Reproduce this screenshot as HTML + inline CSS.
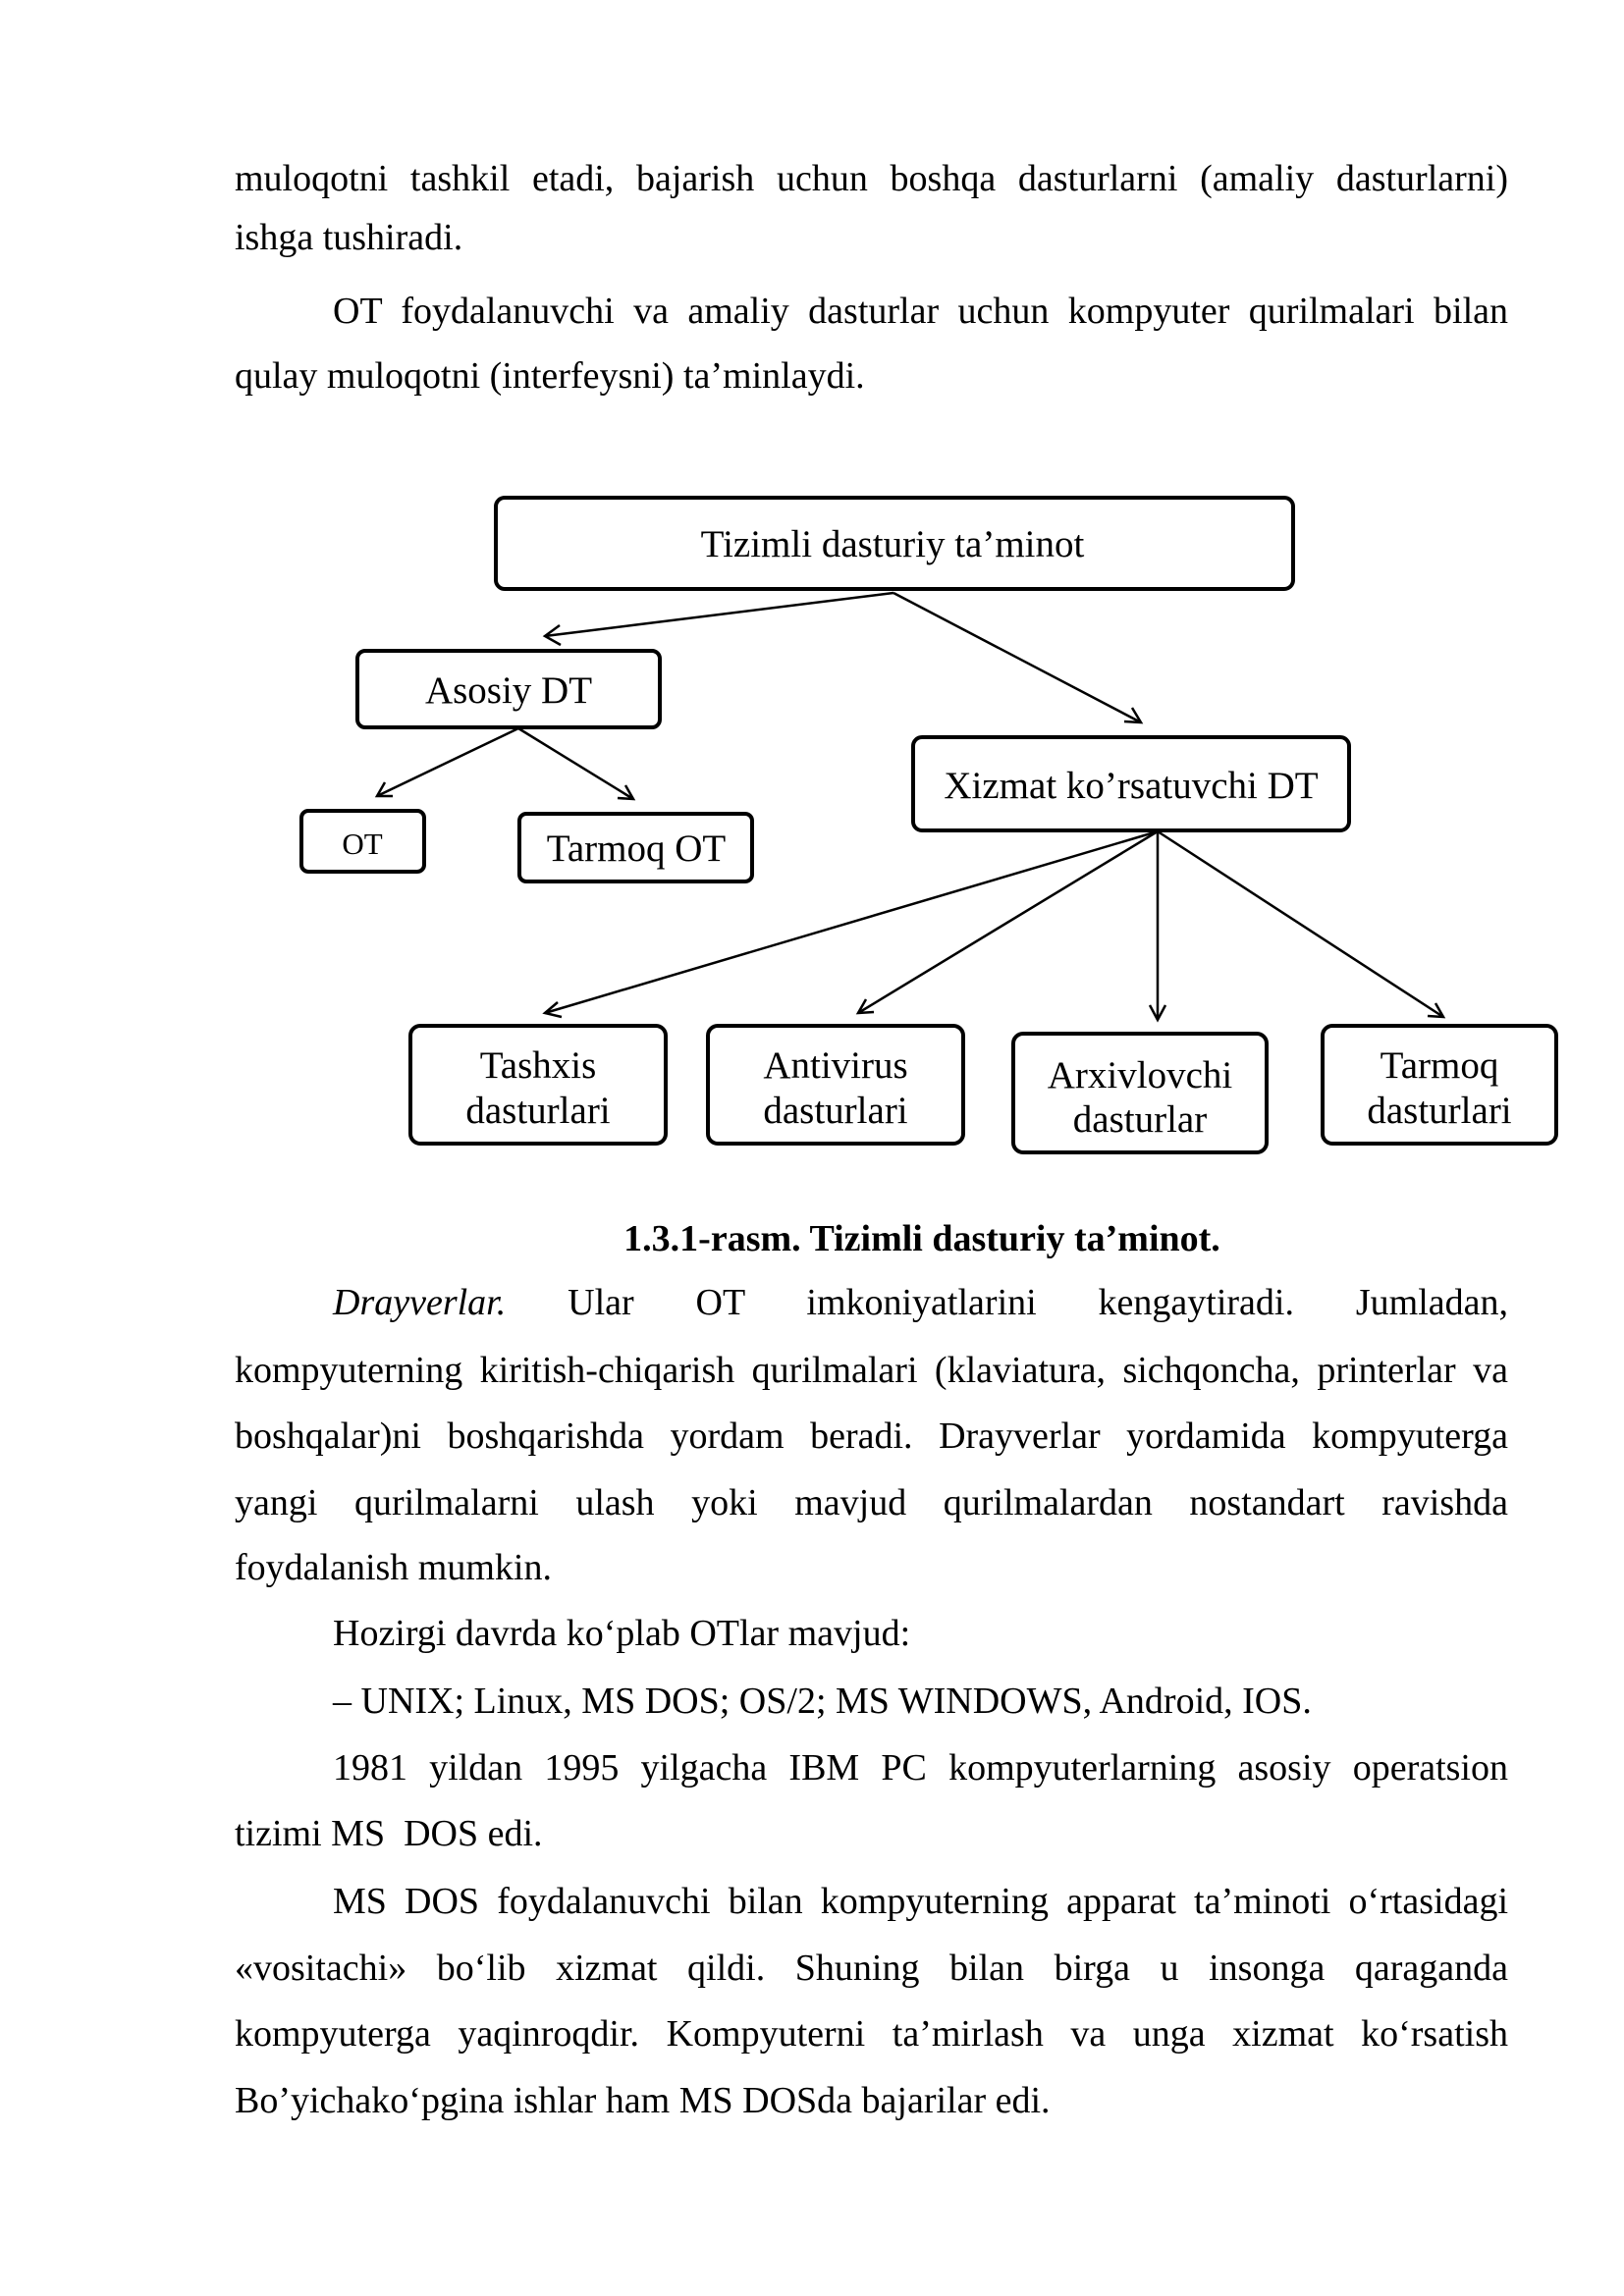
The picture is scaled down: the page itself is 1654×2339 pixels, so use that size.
<!DOCTYPE html>
<html><head><meta charset="utf-8"><style>
body{margin:0;background:#fff;}
.pg{position:relative;width:1654px;height:2339px;overflow:hidden;font-family:"Liberation Serif",serif;font-size:38px;color:#000;}
.l{position:absolute;left:239px;width:1297px;height:44px;line-height:44px;white-space:nowrap;}
.j{text-align:justify;text-align-last:justify;white-space:normal;}
.i{left:339px;width:1197px;}
svg{position:absolute;left:0;top:-3px;}
svg text{font-family:"Liberation Serif",serif;}
</style></head><body><div class="pg">
<div class="l j" style="top:160px">muloqotni tashkil etadi, bajarish uchun boshqa dasturlarni (amaliy dasturlarni)</div>
<div class="l" style="top:220px">ishga tushiradi.</div>
<div class="l j i" style="top:295px">OT foydalanuvchi va amaliy dasturlar uchun kompyuter qurilmalari bilan</div>
<div class="l" style="top:361px">qulay muloqotni (interfeysni) ta’minlaydi.</div>

<svg width="1654" height="1300" viewBox="0 0 1654 1300">
<g fill="none" stroke="#000" stroke-width="4">
<rect x="505" y="510" width="812" height="93" rx="9"/>
<rect x="364" y="666" width="308" height="78" rx="8"/>
<rect x="930" y="754" width="444" height="95" rx="9"/>
<rect x="307" y="829" width="125" height="62" rx="7"/>
<rect x="529" y="832" width="237" height="69" rx="7"/>
<rect x="418" y="1048" width="260" height="120" rx="10"/>
<rect x="721" y="1048" width="260" height="120" rx="10"/>
<rect x="1032" y="1056" width="258" height="121" rx="10"/>
<rect x="1347" y="1048" width="238" height="120" rx="10"/>
</g>
<g fill="none" stroke="#000" stroke-width="2.5">
<line x1="910" y1="607" x2="555" y2="651"/><polyline points="570,640 555,651 571,660"/>
<line x1="910" y1="607" x2="1162" y2="739"/><polyline points="1145,738 1162,739 1153,724"/>
<line x1="528" y1="745" x2="384" y2="814"/><polyline points="392,800 384,814 400,814"/>
<line x1="528" y1="745" x2="645" y2="817"/><polyline points="629,816 645,817 637,803"/>
<line x1="1179" y1="850" x2="555" y2="1035"/><polyline points="568,1024 555,1035 572,1039"/>
<line x1="1179" y1="850" x2="874" y2="1035"/><polyline points="882,1021 874,1035 890,1034"/>
<line x1="1179" y1="850" x2="1179" y2="1042"/><polyline points="1171,1027 1179,1042 1187,1027"/>
<line x1="1179" y1="850" x2="1470" y2="1039"/><polyline points="1454,1038 1470,1039 1462,1025"/>
</g>
<g font-size="39" text-anchor="middle">
<text x="909" y="570">Tizimli dasturiy ta’minot</text>
<text x="518" y="719">Asosiy DT</text>
<text x="1152" y="816">Xizmat ko’rsatuvchi DT</text>
<text x="369" y="873" font-size="31">OT</text>
<text x="648" y="880">Tarmoq OT</text>
<text x="548" y="1101">Tashxis</text><text x="548" y="1147">dasturlari</text>
<text x="851" y="1101">Antivirus</text><text x="851" y="1147">dasturlari</text>
<text x="1161" y="1111">Arxivlovchi</text><text x="1161" y="1156">dasturlar</text>
<text x="1466" y="1101">Tarmoq</text><text x="1466" y="1147">dasturlari</text>
</g>
</svg>

<div class="l" style="top:1240px;left:0;width:1878px;text-align:center;font-weight:bold;">1.3.1-rasm. Tizimli dasturiy ta’minot.</div>
<div class="l j i" style="top:1305px"><i>Drayverlar.</i> Ular OT imkoniyatlarini kengaytiradi. Jumladan,</div>
<div class="l j" style="top:1374px">kompyuterning kiritish-chiqarish qurilmalari (klaviatura, sichqoncha, printerlar va</div>
<div class="l j" style="top:1441px">boshqalar)ni boshqarishda yordam beradi. Drayverlar yordamida kompyuterga</div>
<div class="l j" style="top:1509px">yangi qurilmalarni ulash yoki mavjud qurilmalardan nostandart ravishda</div>
<div class="l" style="top:1575px">foydalanish mumkin.</div>
<div class="l i" style="top:1642px">Hozirgi davrda ko‘plab OTlar mavjud:</div>
<div class="l i" style="top:1711px">– UNIX; Linux, MS DOS; OS/2; MS WINDOWS, Android, IOS.</div>
<div class="l j i" style="top:1779px">1981 yildan 1995 yilgacha IBM PC kompyuterlarning asosiy operatsion</div>
<div class="l" style="top:1846px">tizimi MS&nbsp; DOS edi.</div>
<div class="l j i" style="top:1915px">MS DOS foydalanuvchi bilan kompyuterning apparat ta’minoti o‘rtasidagi</div>
<div class="l j" style="top:1983px">«vositachi» bo‘lib xizmat qildi. Shuning bilan birga u insonga qaraganda</div>
<div class="l j" style="top:2050px">kompyuterga yaqinroqdir. Kompyuterni ta’mirlash va unga xizmat ko‘rsatish</div>
<div class="l" style="top:2118px">Bo’yichako‘pgina ishlar ham MS DOSda bajarilar edi.</div>
</div></body></html>
